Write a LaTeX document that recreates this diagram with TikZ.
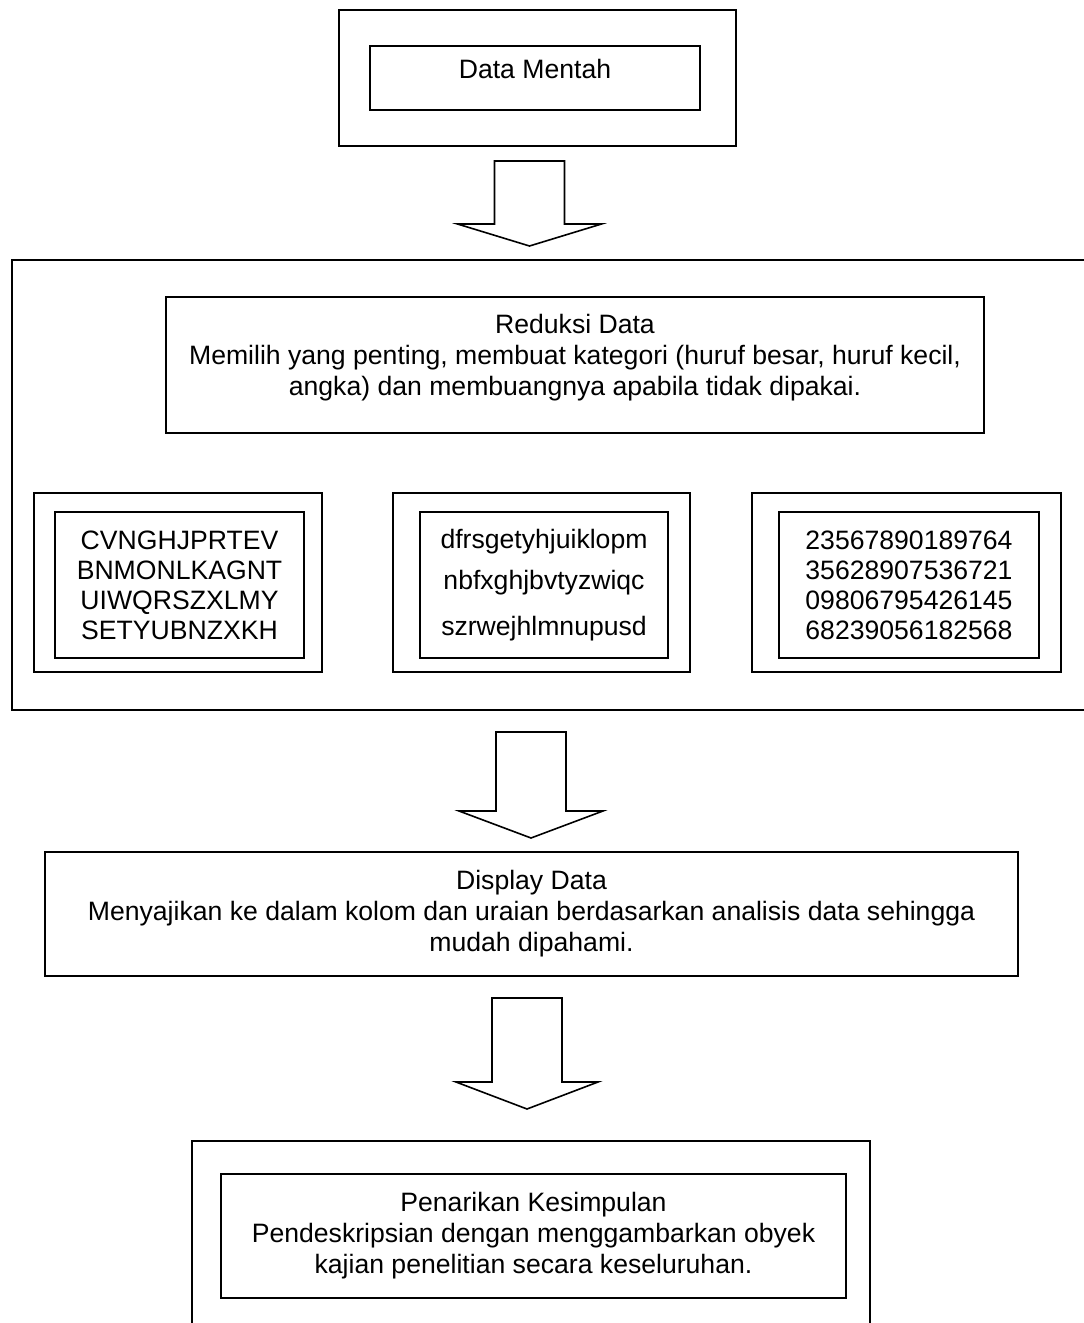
\documentclass[tikz,border=0pt]{standalone}
\usepackage{fontspec}
\setmainfont{Liberation Sans}
\tikzset{
  box/.style={draw, rectangle, line width=1.6pt, inner sep=0pt, align=center,
    font=\fontsize{26.6}{31}\selectfont},
  small/.style={box, font=\fontsize{26.6}{30}\selectfont},
  blk/.style={draw, line width=1.6pt, line join=miter}
}
\begin{document}
\begin{tikzpicture}[x=1pt,y=-1pt]
\useasboundingbox (0,0) rectangle (1084,1323);
\clip (0,0) rectangle (1084,1323);
% Data Mentah
\node[box, minimum width=397pt, minimum height=136pt] (dmOuter) at (537.5,78) {};
\node[box, minimum width=330pt, minimum height=64pt] (dmInner) at (535,78) {Data Mentah\\[-22pt]\strut};
% arrow 1
\coordinate (a1top) at (529.5,161);
\coordinate (a1tip) at (529.5,246);
\draw[blk] (494.5,161) -- (494.5,224) -- (457.5,224) -- (a1tip) -- (601.5,224) -- (564.5,224) -- (564.5,161) -- cycle;
% Reduksi block
\node[box, minimum width=1088pt, minimum height=450pt] (bigBox) at (556,485) {};
\node[box, minimum width=818pt, minimum height=136pt] (redBox) at (575,365)
  {Reduksi Data\\Memilih yang penting, membuat kategori (huruf besar, huruf kecil,\\angka) dan membuangnya apabila tidak dipakai.\\[-20pt]\strut};
\node[box, minimum width=288pt, minimum height=179pt] (b1o) at (178,582.5) {};
\node[small, minimum width=249pt, minimum height=146pt] (b1i) at (179.5,585)
  {CVNGHJPRTEV\\BNMONLKAGNT\\UIWQRSZXLMY\\SETYUBNZXKH};
\node[box, minimum width=297pt, minimum height=179pt] (b2o) at (541.5,582.5) {};
\node[small, minimum width=248pt, minimum height=146pt] (b2i) at (544,585)
  {dfrsgetyhjuiklopm\\[11pt]nbfxghjbvtyzwiqc\\[16pt]szrwejhlmnupusd};
\node[box, minimum width=309pt, minimum height=179pt] (b3o) at (906.5,582.5) {};
\node[small, minimum width=260pt, minimum height=146pt] (b3i) at (909,585)
  {23567890189764\\35628907536721\\09806795426145\\68239056182568};
% arrow 2
\coordinate (a2top) at (531,732);
\coordinate (a2tip) at (531,838);
\draw[blk] (496,732) -- (496,811) -- (459,811) -- (a2tip) -- (603,811) -- (566,811) -- (566,732) -- cycle;
% Display
\node[box, minimum width=973pt, minimum height=124pt] (dispBox) at (531.5,914)
  {Display Data\\Menyajikan ke dalam kolom dan uraian berdasarkan analisis data sehingga\\mudah dipahami.};
% arrow 3
\coordinate (a3top) at (527,998);
\coordinate (a3tip) at (527,1109);
\draw[blk] (492,998) -- (492,1082) -- (456,1082) -- (a3tip) -- (598,1082) -- (562,1082) -- (562,998) -- cycle;
% Kesimpulan
\node[box, minimum width=678pt, minimum height=210pt] (finOuter) at (531,1246) {};
\node[box, minimum width=625pt, minimum height=124pt] (finInner) at (533.5,1236)
  {Penarikan Kesimpulan\\Pendeskripsian dengan menggambarkan obyek\\kajian penelitian secara keseluruhan.};
\end{tikzpicture}
\end{document}
